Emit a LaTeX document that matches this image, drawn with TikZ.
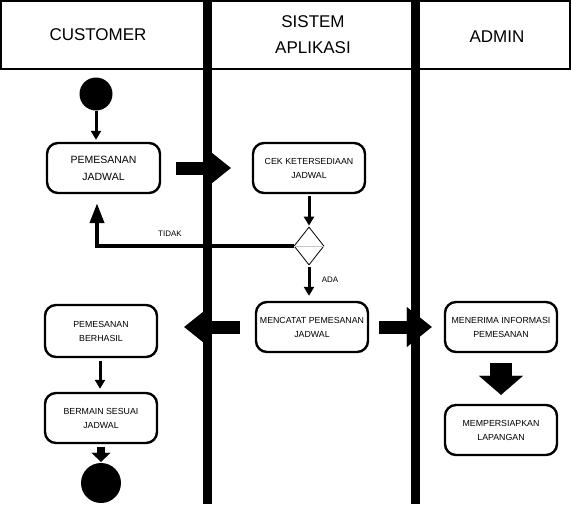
\documentclass[tikz,border=0pt]{standalone}
\usepackage{fontspec}
\setmainfont{Liberation Sans}
\usetikzlibrary{arrows.meta,shapes.geometric}
\begin{document}
\begin{tikzpicture}[x=1pt,y=-1pt,
  act/.style={draw,line width=2.4pt,rounded corners=11pt,minimum width=112pt,minimum height=50pt,align=center,font=\fontsize{8.8}{14}\selectfont,inner sep=2pt,fill=white},
  head/.style={font=\fontsize{17}{26}\selectfont,align=center},
  thinarrow/.style={line width=3pt,-{Triangle[length=9pt,width=10pt]}},
  fbarrow/.style={line width=4pt,-{Triangle[length=20pt,width=14pt]}},
  blockarrow/.style={line width=13pt,-{Triangle[length=25pt,width=40pt,line width=0.1pt]}},
  lane/.style={line width=9pt},
  lbl/.style={font=\fontsize{8}{9}\selectfont}
]
\useasboundingbox (0,0) rectangle (571,504);
% header
\draw[line width=1.5pt] (0.75,1) rectangle (570,69);
\draw[lane] (207,0) -- (207,504);
\draw[lane] (415,0) -- (415,504);
\node[head] (hc) at (98,35) {CUSTOMER};
\node[head] (hs) at (313,35) {SISTEM\\APLIKASI};
\node[head] (ha) at (497,37) {ADMIN};
% nodes
\node[circle,fill=black,minimum size=33pt,inner sep=0pt] (start) at (96,94) {};
\node[act,minimum width=113pt,font=\fontsize{10.5}{17}\selectfont] (pj) at (103.5,168) {PEMESANAN\\JADWAL};
\node[act] (cek) at (309,168) {CEK KETERSEDIAAN\\JADWAL};
\node[diamond,draw,line width=0.8pt,minimum width=30pt,minimum height=38pt,inner sep=0pt,fill=white] (dia) at (309,246) {};
\draw[gray!45,line width=0.8pt] (dia.west) -- (dia.east);
\node[act] (mc) at (312,327) {MENCATAT PEMESANAN\\JADWAL};
\node[act,minimum height=52pt] (pb) at (101,331) {PEMESANAN\\BERHASIL};
\node[act] (bsj) at (101,418) {BERMAIN SESUAI\\JADWAL};
\node[circle,fill=black,minimum size=40pt,inner sep=0pt] (end) at (101,483) {};
\node[act] (mi) at (501,327) {MENERIMA INFORMASI\\PEMESANAN};
\node[act] (ml) at (501,430) {MEMPERSIAPKAN\\LAPANGAN};
% connectors
\draw[thinarrow,shorten >=2pt] (start.south) -- (start.south |- pj.north);
\draw[blockarrow,shorten <=15pt,shorten >=21pt] (pj.east) -- (cek.west);
\draw[thinarrow,shorten <=2pt,shorten >=1pt] (cek.south) -- (dia.north);
\draw[fbarrow] (dia.west) -| ([xshift=-6.5pt,yshift=-9pt]pj.south);
\node[lbl] (tidak) at (170,234) {TIDAK};
\draw[thinarrow,shorten <=2pt,shorten >=5pt] (dia.south) -- (dia.south |- mc.north);
\node[lbl] (ada) at (330,280) {ADA};
\draw[blockarrow,shorten <=15pt,shorten >=26pt] (mc.west) -- (pb.east |- mc.west);
\draw[blockarrow,shorten <=10pt,shorten >=12pt] (mc.east) -- (mi.west);
\draw[thinarrow,shorten <=3pt,shorten >=3pt] ([xshift=-1pt]pb.south) -- ([xshift=-1pt]bsj.north);
\draw[line width=8pt,-{Triangle[length=9pt,width=19pt,line width=0.1pt]},shorten <=3pt,shorten >=1pt] (bsj.south) -- (end.north);
\draw[line width=22pt,-{Triangle[length=19pt,width=44pt,line width=0.1pt]},shorten <=10pt,shorten >=9pt] (mi.south) -- (ml.north);
\end{tikzpicture}
\end{document}
